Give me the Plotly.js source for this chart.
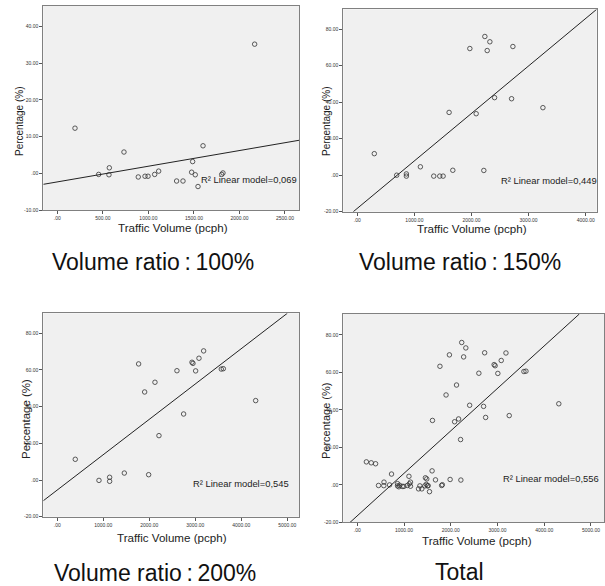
<!DOCTYPE html>
<html>
<head>
<meta charset="utf-8">
<script src="https://cdn.plot.ly/plotly-3.0.1.min.js"></script>
<style>html,body{margin:0;padding:0;background:#fff;}#chart{width:605px;height:586px;}</style>
</head>
<body>
<div id="chart"></div>
<script>
// ---- data ----
const p100X = [194, 454, 567, 571, 732, 889, 963, 996, 1069, 1113, 1310, 1380, 1475, 1486, 1515, 1545, 1600, 1805, 1819, 2167];
const p100Y = [12.3, -0.3, -0.4, 1.5, 5.8, -1.0, -0.8, -0.8, -0.3, 0.6, -2.1, -2.1, 0.3, 3.2, -0.4, -3.6, 7.5, -0.3, 0.1, 35.2];

const p150X = [298, 690, 860, 860, 1105, 1339, 1444, 1503, 1673, 1608, 1971, 2082, 2216, 2234, 2275, 2322, 2404, 2702, 2725, 3251];
const p150Y = [11.8, 0.0, 0.7, -0.5, 4.6, -0.5, -0.5, -0.5, 2.7, 34.4, 69.4, 33.7, 2.6, 76.0, 68.3, 73.1, 42.5, 41.9, 70.5, 37.0];

const p200X = [391, 906, 1138, 1138, 1457, 1768, 1899, 1986, 2123, 2210, 2601, 2746, 2928, 2949, 3007, 3080, 3181, 3565, 3609, 4312];
const p200Y = [11.3, -0.2, 1.5, -0.7, 3.8, 63.3, 48.0, 2.9, 53.3, 24.2, 59.6, 36.0, 64.2, 63.6, 59.5, 66.4, 70.4, 60.5, 60.7, 43.3];

const totalX = p100X.concat(p150X, p200X);
const totalY = p100Y.concat(p150Y, p200Y);

// fitted linear model lines (endpoints)
const fit100X = [-154, 2654], fit100Y = [-3.0, 9.0];
const fit150X = [-70, 4193], fit150Y = [-20, 90.9];
const fit200X = [-304, 5000], fit200Y = [-11.3, 90.9];
const fitTotX = [-156, 4751], fitTotY = [-20, 91.2];

const r2Values = ['0,069', '0,449', '0,545', '0,556'];
const panelTitles = ['Volume ratio\u2009:\u2009100%', 'Volume ratio\u2009:\u2009150%', 'Volume ratio\u2009:\u2009200%', 'Total'];

const xTicks2500 = [0, 500, 1000, 1500, 2000, 2500];
const xTicks2500Text = ['.00', '500.00', '1000.00', '1500.00', '2000.00', '2500.00'];
const xTicks4000 = [0, 1000, 2000, 3000, 4000];
const xTicks4000Text = ['.00', '1000.00', '2000.00', '3000.00', '4000.00'];
const xTicks5000 = [0, 1000, 2000, 3000, 4000, 5000];
const xTicks5000Text = ['.00', '1000.00', '2000.00', '3000.00', '4000.00', '5000.00'];
const yTicks40 = [-10, 0, 10, 20, 30, 40];
const yTicks40Text = ['-10.00', '.00', '10.00', '20.00', '30.00', '40.00'];
const yTicks80 = [-20, 0, 20, 40, 60, 80];
const yTicks80Text = ['-20.00', '.00', '20.00', '40.00', '60.00', '80.00'];

// ---- layout helpers ----
const W = 605, H = 586;
const px = x => x / W;
const py = y => 1 - y / H;

const plain = 'Liberation Sans, Arial, sans-serif';

function markerTrace(x, y, xa, ya) {
  return {x: x, y: y, xaxis: xa, yaxis: ya, type: 'scatter', mode: 'markers',
    marker: {symbol: 'circle-open', size: 4.5, color: '#333', line: {width: 0.8, color: '#333'}},
    hoverinfo: 'x+y', showlegend: false};
}
function lineTrace(x, y, xa, ya) {
  return {x: x, y: y, xaxis: xa, yaxis: ya, type: 'scatter', mode: 'lines',
    line: {color: '#222', width: 1}, hoverinfo: 'skip', showlegend: false};
}

const traces = [
  markerTrace(p100X, p100Y, 'x', 'y'), lineTrace(fit100X, fit100Y, 'x', 'y'),
  markerTrace(p150X, p150Y, 'x2', 'y2'), lineTrace(fit150X, fit150Y, 'x2', 'y2'),
  markerTrace(p200X, p200Y, 'x3', 'y3'), lineTrace(fit200X, fit200Y, 'x3', 'y3'),
  markerTrace(totalX, totalY, 'x4', 'y4'), lineTrace(fitTotX, fitTotY, 'x4', 'y4')
];

function axis(domain, range, vals, text, anchor) {
  return {domain: domain, range: range, anchor: anchor,
    showline: true, mirror: true, linecolor: '#808080', linewidth: 1,
    ticks: 'outside', ticklen: 3, tickwidth: 1, tickcolor: '#555',
    showgrid: false, zeroline: false,
    tickmode: 'array', tickvals: vals, ticktext: text,
    tickfont: {family: plain, size: 5, color: '#333'}, fixedrange: true};
}

// panel boxes in pixels: [left, right, top, bottom]
const box1 = [43.3, 299, 6, 210];
const box2 = [343.3, 596.7, 9.3, 211.7];
const box3 = [43.3, 299, 313.3, 516.7];
const box4 = [343.3, 604, 314, 522.4];
const dx = b => [px(b[0]), px(b[1])];
const dy = b => [py(b[3]), py(b[2])];

const layout = {
  width: W, height: H, autosize: false,
  margin: {l: 0, r: 0, t: 0, b: 0},
  paper_bgcolor: '#ffffff', plot_bgcolor: '#f0f0f0',
  showlegend: false,
  xaxis: axis(dx(box1), [-154, 2654], xTicks2500, xTicks2500Text, 'y'),
  yaxis: axis(dy(box1), [-10, 45.6], yTicks40, yTicks40Text, 'x'),
  xaxis2: axis(dx(box2), [-245, 4193], xTicks4000, xTicks4000Text, 'y2'),
  yaxis2: axis(dy(box2), [-20, 90.9], yTicks80, yTicks80Text, 'x2'),
  xaxis3: axis(dx(box3), [-304, 5254], xTicks5000, xTicks5000Text, 'y3'),
  yaxis3: axis(dy(box3), [-20, 90.9], yTicks80, yTicks80Text, 'x3'),
  xaxis4: axis(dx(box4), [-300, 5279], xTicks5000, xTicks5000Text, 'y4'),
  yaxis4: axis(dy(box4), [-20, 91.2], yTicks80, yTicks80Text, 'x4'),
  annotations: []
};

function ann(text, x, y, size, opts) {
  return Object.assign({text: text, xref: 'paper', yref: 'paper', x: px(x), y: py(y),
    xanchor: 'center', yanchor: 'middle', showarrow: false,
    font: {family: plain, size: size, color: '#222'}}, opts || {});
}

// y axis titles
layout.annotations.push(ann('Percentage (%)', 19, 122, 10, {textangle: -90}));
layout.annotations.push(ann('Percentage (%)', 326, 122, 10, {textangle: -90}));
layout.annotations.push(ann('Percentage (%)', 26, 419, 11.5, {textangle: -90}));
layout.annotations.push(ann('Percentage (%)', 326, 421, 11, {textangle: -90}));
// x axis titles
layout.annotations.push(ann('Traffic Volume (pcph)', 173, 227.5, 11.6));
layout.annotations.push(ann('Traffic Volume (pcph)', 472, 228.5, 11.6));
layout.annotations.push(ann('Traffic Volume (pcph)', 172, 537.5, 11.6));
layout.annotations.push(ann('Traffic Volume (pcph)', 477, 540, 11.6));
// R squared labels
const r2Pos = [[199, 179], [499, 180], [191, 483], [500.7, 479]];
r2Values.forEach((v, i) => {
  layout.annotations.push(ann('R² Linear model=' + v, r2Pos[i][0], r2Pos[i][1], 9.4, {xanchor: 'left'}));
});
// panel captions
const capPos = [[153, 262], [460, 262], [155, 573], [459.5, 572]];
panelTitles.forEach((t, i) => {
  layout.annotations.push(ann(t, capPos[i][0], capPos[i][1], 23, {font: {family: plain, size: 23, color: '#111'}}));
});

Plotly.newPlot('chart', traces, layout, {displayModeBar: false, staticPlot: true});
</script>
</body>
</html>
